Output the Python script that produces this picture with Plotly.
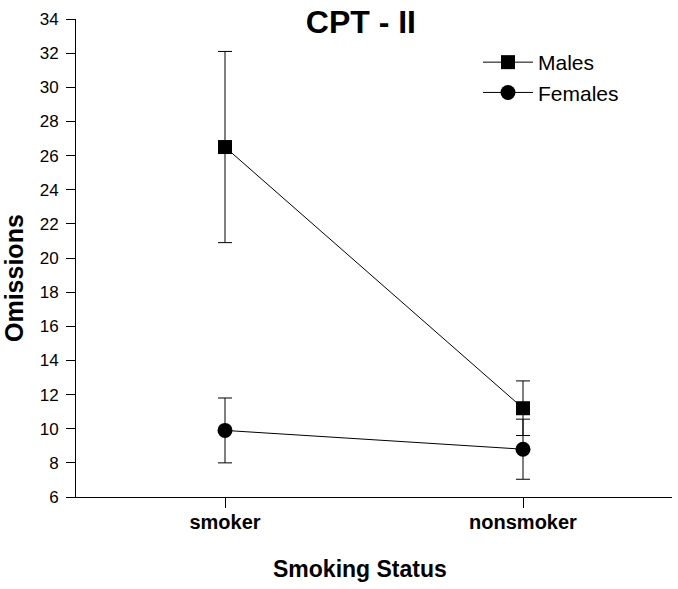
import plotly.graph_objects as go

categories = ["smoker", "nonsmoker"]
males_mean = [26.5, 11.2]
males_err = [5.6, 1.6]
females_mean = [9.9, 8.8]
females_err = [1.9, 1.76]
y_ticks = list(range(6, 35, 2))

FONT = "Liberation Sans, Arial, sans-serif"

W, H = 678, 589
L, T, R, B = 76, 19, 6, 92
PH = H - T - B  # 478
PW = W - L - R  # 596

fig = go.Figure()
fig.add_trace(go.Scatter(
    x=categories, y=males_mean, name="Males", mode="lines+markers",
    line=dict(color="black", width=1),
    marker=dict(symbol="square", size=14, color="black"),
    error_y=dict(type="data", array=males_err, visible=True, color="black", thickness=1, width=7),
))
fig.add_trace(go.Scatter(
    x=categories, y=females_mean, name="Females", mode="lines+markers",
    line=dict(color="black", width=1),
    marker=dict(symbol="circle", size=15, color="black"),
    error_y=dict(type="data", array=females_err, visible=True, color="black", thickness=1, width=7),
))

fig.update_layout(
    width=W, height=H,
    margin=dict(l=L, r=R, t=T, b=B),
    paper_bgcolor="white", plot_bgcolor="white",
    font=dict(family=FONT, color="black"),
    title=dict(text="<b>CPT - II</b>", x=0.478, xref="paper", y=1 - 21.5 / H, yref="container",
               xanchor="center", yanchor="middle", font=dict(size=32, family=FONT, color="black")),
    showlegend=True,
    legend=dict(x=(478 - L) / PW, y=1 - (42 - T) / PH, xanchor="left", yanchor="top",
                font=dict(size=21, family=FONT, color="black"), bgcolor="rgba(0,0,0,0)",
                itemwidth=50, tracegroupgap=0),
    xaxis=dict(type="category", range=[-0.5, 1.5], showline=True, linecolor="black", linewidth=1,
               ticks="outside", ticklen=10, tickwidth=1, tickcolor="black", showgrid=False, zeroline=False,
               tickfont=dict(size=20, family=FONT, color="black"), ticklabelstandoff=-3,
               tickvals=categories, ticktext=["<b>" + c + "</b>" for c in categories]),
    yaxis=dict(range=[6, 34], showline=True, linecolor="black", linewidth=1,
               ticks="outside", ticklen=9, tickwidth=1, tickcolor="black", showgrid=False, zeroline=False,
               tickvals=y_ticks, tickfont=dict(size=17, family=FONT, color="black"),
               ticklabelstandoff=4),
    annotations=[
        dict(text="<b>Omissions</b>", textangle=-90, xref="paper", yref="paper",
             x=(14 - L) / PW, y=(497 - 278) / PH, xanchor="center", yanchor="middle",
             showarrow=False, font=dict(size=25, family=FONT, color="black")),
        dict(text="<b>Smoking Status</b>", xref="paper", yref="paper",
             x=(360 - L) / PW, y=-(569 - 497) / PH, xanchor="center", yanchor="middle",
             showarrow=False, font=dict(size=23, family=FONT, color="black")),
    ],
)

fig.write_html("out.html", config={"displayModeBar": False},
               post_script="document.body.style.margin='0';document.body.style.overflow='hidden';")
